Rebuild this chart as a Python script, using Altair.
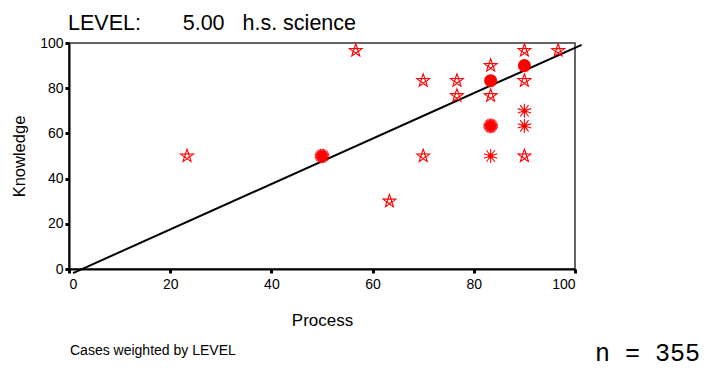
import math
import altair as alt
import pandas as pd

# ---------------- data ----------------
LEVEL = 5.00
level_label = "h.s. science"

process = [56.67, 90.00, 96.67, 83.33, 90.00, 70.00, 76.67, 76.67, 83.33, 70.00,
           90.00, 23.33, 63.33, 90.00, 90.00, 83.33, 83.33, 50.00, 90.00, 83.33]
knowledge = [96.67, 96.67, 96.67, 90.00, 83.33, 83.33, 83.33, 76.67, 76.67, 50.00,
             50.00, 50.00, 30.00, 70.00, 63.33, 50.00, 63.33, 50.00, 90.00, 83.33]
cases = [1, 1, 1, 1, 1, 1, 1, 1, 1, 1,
         1, 1, 1, 2, 3, 3, 6, 7, 19, 18]

fit_x = [0.8, 101.3]
fit_y = [-1.8, 99.2]

ticks = [0, 20, 40, 60, 80, 100]

n_weighted = int(round(sum(cases) * LEVEL))

# ---------------- marker glyphs (unit coordinates) ----------------
def star_path():
    pts = []
    for k in range(10):
        a = math.radians(-90 + 36 * k)
        r = 1.0 if k % 2 == 0 else 0.42
        pts.append(f"{r*math.cos(a):.3f},{r*math.sin(a):.3f}")
    p = "M" + " L".join(pts) + " Z"
    c = 0.32
    p += f" M{c},0 A{c},{c} 0 1,1 {-c},0 A{c},{c} 0 1,1 {c},0 Z"
    return p

def spokes_path(n):
    parts = []
    for k in range(n):
        a = math.radians(-90 + 360.0 / n * k)
        parts.append(f"M0,0 L{math.cos(a):.3f},{math.sin(a):.3f}")
    c = 0.3
    parts.append(f"M{c},0 A{c},{c} 0 1,1 {-c},0 A{c},{c} 0 1,1 {c},0 Z")
    return " ".join(parts)

STAR = star_path()
AST = spokes_path(10)
DENSE = spokes_path(28)

RED = "#ff0000"
FONT = "Liberation Sans"
MONO = "Liberation Mono, Courier New, DejaVu Sans Mono, monospace"

pts = pd.DataFrame({"Process": process, "Knowledge": knowledge, "cases": cases})
fit = pd.DataFrame({"Process": fit_x, "Knowledge": fit_y})

xscale = alt.Scale(domain=[0, 100], nice=False, zero=False)
yscale = alt.Scale(domain=[0, 100], nice=False, zero=False)

xaxis = alt.Axis(values=ticks, title="Process", labelPadding=4, titlePadding=21,
                 titleFontSize=17, grid=False)
yaxis = alt.Axis(values=ticks, title="Knowledge", labelPadding=2, titlePadding=12,
                 titleFontSize=16.5, grid=False)

base = alt.Chart(pts).transform_calculate(
    kind="datum.cases == 1 ? 'star' : (datum.cases <= 3 ? 'asterisk' : (datum.cases <= 10 ? 'dense' : 'filled'))"
)

open_marks = base.transform_filter("datum.kind != 'filled'").mark_point(
    filled=False, color=RED, strokeWidth=1.1, opacity=1, clip=False
).encode(
    x=alt.X("Process:Q", scale=xscale, axis=xaxis),
    y=alt.Y("Knowledge:Q", scale=yscale, axis=yaxis),
    shape=alt.Shape("kind:N", scale=alt.Scale(domain=["star", "asterisk", "dense"],
                                               range=[STAR, AST, DENSE]), legend=None),
    size=alt.Size("kind:N", scale=alt.Scale(domain=["star", "asterisk", "dense"],
                                             range=[185, 215, 215]), legend=None),
)

filled_marks = base.transform_filter("datum.kind == 'filled'").mark_point(
    filled=True, shape="circle", color=RED, size=170, opacity=1, clip=False
).encode(
    x=alt.X("Process:Q", scale=xscale),
    y=alt.Y("Knowledge:Q", scale=yscale),
)

fit_line = alt.Chart(fit).mark_line(color="black", strokeWidth=2, clip=False).encode(
    x=alt.X("Process:Q", scale=xscale),
    y=alt.Y("Knowledge:Q", scale=yscale),
)

NB = "\u00a0"
title_text = f"LEVEL:{NB*7}{LEVEL:.2f}{NB*3}{level_label}"

title = alt.Chart(pd.DataFrame({"t": [title_text]})).mark_text(
    align="left", baseline="alphabetic", font=FONT, fontSize=21.5, color="black"
).encode(x=alt.value(-1), y=alt.value(-13), text="t:N")

note = alt.Chart(pd.DataFrame({"t": ["Cases weighted by LEVEL"]})).mark_text(
    align="left", baseline="alphabetic", font=FONT, fontSize=14, color="black"
).encode(x=alt.value(1), y=alt.value(312), text="t:N")

ntext = alt.Chart(pd.DataFrame({"t": [f"n = {n_weighted}"]})).mark_text(
    align="left", baseline="alphabetic", font=MONO, fontSize=25, color="black"
).encode(x=alt.value(526), y=alt.value(318), text="t:N")

chart = alt.layer(fit_line, open_marks, filled_marks, title, note, ntext).properties(
    width=506, height=226,
    autosize=alt.AutoSizeParams(type="none"),
    padding={"left": 61, "top": 35, "right": 124, "bottom": 99},
    background="white",
).configure_view(
    stroke="#333333", strokeWidth=1.5
).configure_axis(
    grid=False, domainColor="black", domainWidth=2, tickColor="black", tickWidth=3,
    tickSize=4, labelFont=FONT, labelFontSize=14, labelColor="black",
    titleFont=FONT, titleFontWeight="normal", titleColor="black",
)

chart.save("out.html", embed_options={"renderer": "svg", "actions": False})
